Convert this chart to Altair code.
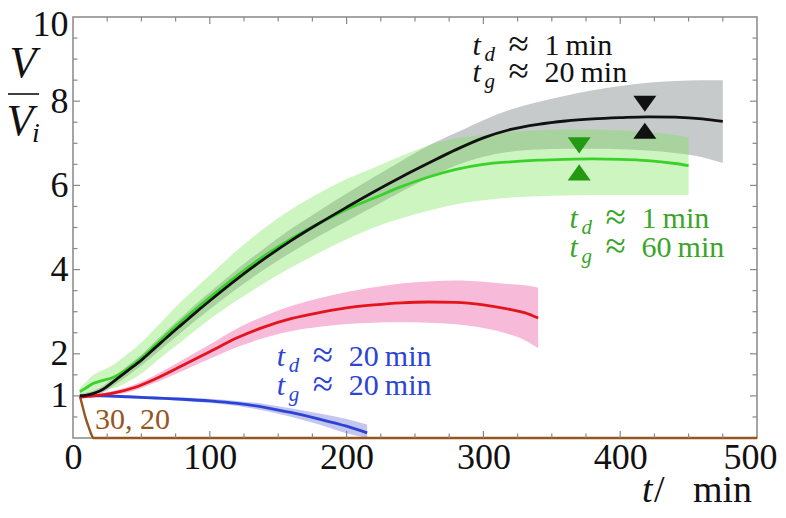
import altair as alt
import pandas as pd

# ---------------- data ----------------
black_t = [5, 10, 15, 20, 30, 40, 50, 60, 70, 80, 90, 100, 120, 140, 160, 180, 200, 220, 240, 260,
           280, 300, 320, 340, 360, 380, 400, 420, 440, 460, 475]
black_v = [1.0, 1.02, 1.06, 1.12, 1.35, 1.6, 1.85, 2.14, 2.43, 2.71, 2.99, 3.26, 3.78, 4.26, 4.7, 5.1,
           5.48, 5.85, 6.2, 6.53, 6.85, 7.13, 7.33, 7.45, 7.53, 7.58, 7.61, 7.63, 7.62, 7.58, 7.52]
black_hi = [1.05, 1.08, 1.13, 1.2, 1.45, 1.72, 1.98, 2.29, 2.6, 2.89, 3.19, 3.46, 4.01, 4.51, 4.98, 5.4,
            5.81, 6.2, 6.58, 6.95, 7.25, 7.55, 7.8, 7.98, 8.13, 8.26, 8.36, 8.44, 8.48, 8.5, 8.5]
black_lo = [0.95, 0.97, 1.0, 1.05, 1.25, 1.48, 1.72, 1.99, 2.26, 2.53, 2.8, 3.06, 3.55, 4.01, 4.42, 4.8,
            5.15, 5.5, 5.85, 6.18, 6.47, 6.68, 6.8, 6.85, 6.87, 6.87, 6.86, 6.83, 6.77, 6.67, 6.53]

green_t = [5, 10, 15, 20, 30, 40, 50, 60, 70, 80, 90, 100, 120, 140, 160, 180, 200, 220, 240, 260,
           280, 300, 320, 340, 360, 380, 400, 420, 440, 450]
green_v = [1.1, 1.2, 1.3, 1.35, 1.45, 1.65, 1.9, 2.2, 2.5, 2.79, 3.07, 3.34, 3.86, 4.33, 4.74, 5.1,
           5.43, 5.7, 5.97, 6.2, 6.38, 6.5, 6.56, 6.6, 6.62, 6.63, 6.62, 6.59, 6.52, 6.47]
green_hi = [1.2, 1.35, 1.5, 1.58, 1.75, 2.0, 2.27, 2.6, 2.94, 3.27, 3.57, 3.87, 4.46, 4.99, 5.44, 5.82,
            6.15, 6.42, 6.7, 6.95, 7.12, 7.2, 7.27, 7.31, 7.33, 7.33, 7.31, 7.27, 7.2, 7.15]
green_lo = [1.0, 1.05, 1.1, 1.13, 1.18, 1.33, 1.53, 1.8, 2.06, 2.31, 2.57, 2.82, 3.27, 3.68, 4.06, 4.4,
            4.72, 5.0, 5.22, 5.4, 5.55, 5.65, 5.71, 5.74, 5.76, 5.77, 5.77, 5.77, 5.77, 5.77]

red_t = [5, 15, 30, 45, 60, 80, 100, 120, 140, 160, 180, 200, 220, 240, 260, 280, 300, 320, 330, 340]
red_v = [0.97, 1.0, 1.07, 1.2, 1.4, 1.72, 2.05, 2.38, 2.64, 2.84, 2.98, 3.09, 3.16, 3.21, 3.23, 3.22,
         3.16, 3.05, 2.98, 2.85]
red_hi = [0.99, 1.03, 1.12, 1.27, 1.49, 1.85, 2.22, 2.60, 2.90, 3.14, 3.32, 3.47, 3.58, 3.67, 3.72,
          3.74, 3.71, 3.65, 3.63, 3.57]
red_lo = [0.95, 0.97, 1.02, 1.13, 1.31, 1.59, 1.88, 2.16, 2.38, 2.54, 2.64, 2.71, 2.74, 2.75, 2.74,
          2.70, 2.61, 2.45, 2.33, 2.13]

blue_t = [5, 20, 40, 60, 80, 100, 120, 140, 160, 180, 200, 215]
blue_v = [1.0, 1.0, 0.98, 0.95, 0.92, 0.88, 0.82, 0.73, 0.6, 0.45, 0.28, 0.12]
blue_hi = [1.01, 1.02, 1.01, 0.98, 0.96, 0.93, 0.88, 0.81, 0.70, 0.58, 0.45, 0.32]
blue_lo = [0.99, 0.98, 0.95, 0.92, 0.88, 0.83, 0.76, 0.65, 0.50, 0.32, 0.11, 0.0]

brown_t = [5, 7, 9, 11, 13, 15, 500]
brown_v = [1.0, 0.75, 0.5, 0.3, 0.12, 0.0, 0.0]

# triangle markers (t, V on the curve)
tri_t = [418, 370]
tri_v = [7.62, 6.63]
tri_color = ["#111111", "#239a12"]

# annotations: anchor (t, V), subscript, value text, colour
ann_t = [292, 292, 363, 363, 149, 149]
ann_v = [9.10, 8.46, 4.99, 4.30, 1.71, 1.02]
ann_sub = ["d", "g", "d", "g", "d", "g"]
ann_num = ["1\u2009min", "20\u2009min", "1\u2009min", "60\u2009min", "20\u2009min", "20\u2009min"]
ann_col = ["#111111", "#111111", "#3aa52a", "#3aa52a", "#2c44d6", "#2c44d6"]

brown_label = ["30, 20"]
brown_label_t = [16]
brown_label_v = [0.21]

x_labels = [0, 100, 200, 300, 400, 500]
y_labels = [1, 2, 4, 6, 8, 10]
x_minor = [25, 50, 75, 125, 150, 175, 225, 250, 275, 325, 350, 375, 425, 450, 475]
x_major = [100, 200, 300, 400]
y_minor = [0.5, 1.5, 2.5, 3, 3.5, 4.5, 5, 5.5, 6.5, 7, 7.5, 8.5, 9, 9.5]
y_major = [1, 2, 4, 6, 8]

# ---------------- chart ----------------
W, H = 684, 421
FONT = "Liberation Serif, Times New Roman, serif"
xs = alt.Scale(domain=[0, 500], nice=False, zero=False)
ys = alt.Scale(domain=[0, 10], nice=False, zero=False)
ax_x = alt.Axis(values=x_labels, title=None, ticks=False, domain=False, grid=False,
                labelFont=FONT, labelFontSize=36, labelColor="#111111", labelPadding=2,
                labelFlush=False,
                labelAlign={"expr": "datum.value == 500 ? 'right' : 'center'"},
                labelOffset={"expr": "datum.value == 500 ? 20 : 0"})
ax_y = alt.Axis(values=y_labels, title=None, ticks=False, domain=False, grid=False,
                labelFont=FONT, labelFontSize=36, labelColor="#111111", labelPadding=5,
                labelOffset={"expr": "datum.value == 10 ? 7 : 0"})


def X(f):
    return alt.X(f, type="quantitative", scale=xs, axis=ax_x)


def Y(f):
    return alt.Y(f, type="quantitative", scale=ys, axis=ax_y)


def band(t, lo, hi, color, opacity=1.0):
    df = pd.DataFrame({"t": t, "lo": lo, "hi": hi})
    return alt.Chart(df).mark_area(color=color, opacity=opacity, interpolate="monotone").encode(
        x=X("t"), y=Y("lo"), y2="hi")


def line(t, v, color, width=2.8):
    df = pd.DataFrame({"t": t, "v": v})
    return alt.Chart(df).mark_line(color=color, strokeWidth=width, interpolate="monotone").encode(
        x=X("t"), y=Y("v"))


layers = [
    band(black_t, black_lo, black_hi, "#c6caca"),
    band(green_t, green_lo, green_hi, "#74e350", 0.36),
    band(red_t, red_lo, red_hi, "#f7bad8"),
    band(blue_t, blue_lo, blue_hi, "#c4c6f0"),
    line(brown_t, brown_v, "#96561f", 2.4),
    line(blue_t, blue_v, "#2c44d6"),
    line(red_t, red_v, "#e3141c"),
    line(green_t, green_v, "#3ad12a"),
    line(black_t, black_v, "#111111"),
]

# inward ticks on the four sides
TICK = "#888888"
def xticks(vals, ln, top):
    df = pd.DataFrame({"t": vals})
    y0 = 0 if top else H
    y1 = ln if top else H - ln
    return alt.Chart(df).mark_rule(color=TICK, strokeWidth=1.2).encode(
        x=X("t"), y=alt.value(y0), y2=alt.value(y1))


def yticks(vals, ln, left):
    df = pd.DataFrame({"v": vals})
    x0 = 0 if left else W
    x1 = ln if left else W - ln
    return alt.Chart(df).mark_rule(color=TICK, strokeWidth=1.2).encode(
        y=Y("v"), x=alt.value(x0), x2=alt.value(x1))


for top in (True, False):
    layers.append(xticks(x_minor, 4.5, top))
    layers.append(xticks(x_major, 7, top))
for left in (True, False):
    layers.append(yticks(y_minor, 4.5, left))
    layers.append(yticks(y_major, 7, left))

# triangles
tri_df = pd.DataFrame({"t": tri_t, "v": tri_v, "c": tri_color})
down = "M-1,-0.7L1,-0.7L0,0.7Z"
up = "M-1,0.7L1,0.7L0,-0.7Z"
for shp, off in ((down, -13.5), (up, 13.5)):
    layers.append(alt.Chart(tri_df).mark_point(shape=shp, size=529, filled=True, opacity=1,
                                               strokeWidth=0, yOffset=off).encode(
        x=X("t"), y=Y("v"), color=alt.Color("c:N", scale=None)))

# annotations
ann_df = pd.DataFrame({"t": ann_t, "v": ann_v, "sub": ann_sub, "num": ann_num, "c": ann_col,
                       "tt": ["t"] * 6, "ap": ["\u2248"] * 6})
col = alt.Color("c:N", scale=None)
layers.append(alt.Chart(ann_df).mark_text(font=FONT, fontSize=30, fontStyle="italic", align="left",
                                          baseline="alphabetic").encode(
    x=X("t"), y=Y("v"), text="tt:N", color=col))
layers.append(alt.Chart(ann_df).mark_text(font=FONT, fontSize=21, fontStyle="italic", align="left",
                                          baseline="alphabetic", dx=12, dy=6).encode(
    x=X("t"), y=Y("v"), text="sub:N", color=col))
layers.append(alt.Chart(ann_df).mark_text(font=FONT, fontSize=37, align="left",
                                          baseline="alphabetic", dx=36, dy=1).encode(
    x=X("t"), y=Y("v"), text="ap:N", color=col))
layers.append(alt.Chart(ann_df).mark_text(font=FONT, fontSize=30, align="left",
                                          baseline="alphabetic", dx=72).encode(
    x=X("t"), y=Y("v"), text="num:N", color=col))

brown_df = pd.DataFrame({"t": brown_label_t, "v": brown_label_v, "s": brown_label})
layers.append(alt.Chart(brown_df).mark_text(font=FONT, fontSize=30, align="left", baseline="alphabetic",
                                            color="#96561f").encode(
    x=X("t"), y=Y("v"), text="s:N"))

# axis titles
layers.append(alt.Chart(pd.DataFrame({"s": ["t"]})).mark_text(
    font=FONT, fontSize=38, fontStyle="italic", align="left", baseline="alphabetic", color="#111111").encode(
    x=alt.value(569), y=alt.value(485), text="s:N"))
layers.append(alt.Chart(pd.DataFrame({"s": ["/"]})).mark_text(
    font=FONT, fontSize=38, align="left", baseline="alphabetic", color="#111111").encode(
    x=alt.value(581), y=alt.value(485), text="s:N"))
layers.append(alt.Chart(pd.DataFrame({"s": ["min"]})).mark_text(
    font=FONT, fontSize=38, align="left", baseline="alphabetic", color="#111111").encode(
    x=alt.value(620), y=alt.value(485), text="s:N"))

layers.append(alt.Chart(pd.DataFrame({"s": ["V"]})).mark_text(
    font=FONT, fontSize=44, fontStyle="italic", align="center", baseline="alphabetic", color="#111111").encode(
    x=alt.value(-50), y=alt.value(60), text="s:N"))
layers.append(alt.Chart(pd.DataFrame({"s": ["V"]})).mark_text(
    font=FONT, fontSize=44, fontStyle="italic", align="center", baseline="alphabetic", color="#111111").encode(
    x=alt.value(-53), y=alt.value(118), text="s:N"))
layers.append(alt.Chart(pd.DataFrame({"s": ["i"]})).mark_text(
    font=FONT, fontSize=28, fontStyle="italic", align="left", baseline="alphabetic", color="#111111").encode(
    x=alt.value(-41), y=alt.value(125), text="s:N"))
layers.append(alt.Chart(pd.DataFrame({"s": ["bar"]})).mark_rule(color="#111111", strokeWidth=1.6).encode(
    x=alt.value(-65), x2=alt.value(-34), y=alt.value(77)))

chart = alt.layer(*layers).properties(
    width=W, height=H,
    padding={"left": 65, "top": 9, "right": 21, "bottom": 72},
    autosize=alt.AutoSizeParams(type="none"),
).configure_view(stroke="#888888", strokeWidth=1.5)

chart.save("out.html", embed_options={"renderer": "svg", "actions": False})
